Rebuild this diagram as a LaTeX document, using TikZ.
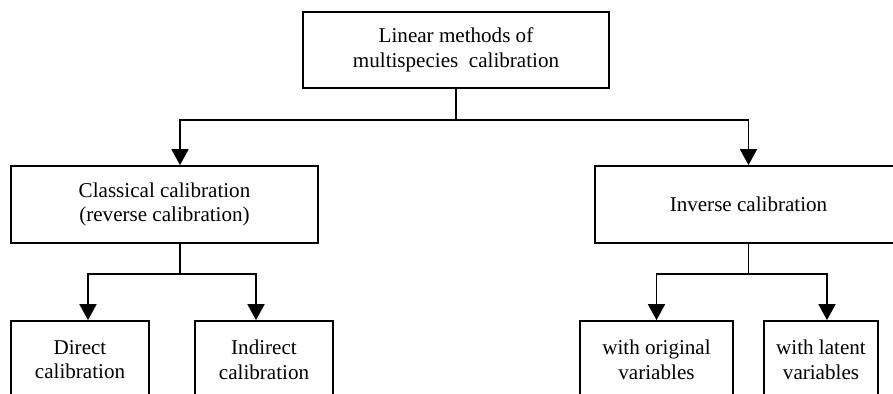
\documentclass[tikz,border=0pt]{standalone}
\usepackage{fontspec}
\setmainfont{Liberation Serif}
\usepackage{tikz}
\usetikzlibrary{shapes,arrows,arrows.meta}
\usetikzlibrary{positioning}
\tikzstyle{block} = [draw, rectangle, align=center, line width=1pt,
    inner sep=0pt, minimum height=1.54cm, font=\fontsize{12}{14}\selectfont]
\tikzstyle{arr} = [-{Triangle[length=0.32cm,width=0.34cm]}, line width=1pt]

\begin{document}
\begin{tikzpicture}[x=0.02cm, y=-0.02cm]
  \useasboundingbox (0,0) rectangle (893,394);
  \clip (0,0) rectangle (893,394);
  \node [block, minimum width=6.12cm, minimum height=1.52cm] (lin) at (456,50)
  {Linear methods of\\multispecies~ calibration};
  \node [block, minimum width=6.14cm] (cls) at (164.5,204.5)
  {Classical calibration\\(reverse calibration)};
  \node [block, minimum width=6.14cm] (inv) at (748.5,204.5)
  {Inverse calibration};
  \node [block, minimum width=2.76cm] (dir) at (80,359.5)
  {Direct\\calibration};
  \node [block, minimum width=2.76cm] (ind) at (264,359.5)
  {Indirect\\calibration};
  \node [block, minimum width=3.06cm] (orig) at (656.5,359.5)
  {with original\\variables};
  \node [block, minimum width=2.28cm] (lat) at (821,359.5)
  {with latent\\variables};
  \coordinate (split) at (456,120);
  \coordinate (splitc) at (180,274);
  \coordinate (spliti) at (748.5,274);
  \draw [line width=1pt] (lin.south) -- (split);
  \draw [arr] (split) -| ([xshift=0.31cm]cls.north);
  \draw [arr] (split) -| (inv.north);
  \draw [line width=1pt] ([xshift=0.31cm]cls.south) -- (splitc);
  \draw [arr] (splitc) -| ([xshift=0.16cm]dir.north);
  \draw [arr] (splitc) -| ([xshift=-0.16cm]ind.north);
  \draw [line width=1pt] (inv.south) -- (spliti);
  \draw [arr] (spliti) -| (orig.north);
  \draw [arr] (spliti) -| ([xshift=0.12cm]lat.north);
\end{tikzpicture}
\end{document}
